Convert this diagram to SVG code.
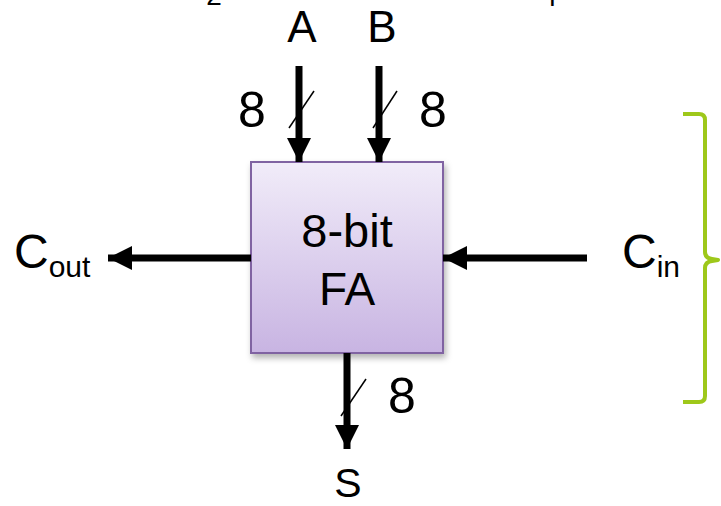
<svg xmlns="http://www.w3.org/2000/svg" width="721" height="506" viewBox="0 0 721 506">
<defs>
<linearGradient id="boxg" x1="0" y1="0" x2="0" y2="1">
<stop offset="0" stop-color="#f1ecf9"/>
<stop offset="1" stop-color="#c8b4e2"/>
</linearGradient>
<filter id="sh" x="-10%" y="-10%" width="130%" height="130%">
<feDropShadow dx="2" dy="4" stdDeviation="3" flood-color="#000" flood-opacity="0.3"/>
</filter>
<marker id="ah" viewBox="0 0 24 24" refX="24" refY="12" markerUnits="userSpaceOnUse" markerWidth="24" markerHeight="24" orient="auto">
<path d="M0,0 L24,12 L0,24 Z" fill="#000"/>
</marker>
</defs>
<style>
.t{font-family:"Liberation Sans",Arial,sans-serif;fill:#000}
.g{font-family:"Liberation Sans","DejaVu Sans",sans-serif;fill:#000}
.w{stroke:#000;stroke-width:7;fill:none}
.s{stroke:#000;stroke-width:1.5;fill:none}
</style>
<rect width="721" height="506" fill="#fff"/>
<text class="t" x="214" y="5" font-size="28" text-anchor="middle">2</text>
<text class="t" x="557" y="0" font-size="28" text-anchor="middle">p</text>
<g id="fa">
<rect x="251" y="162" width="192" height="191" fill="url(#boxg)" stroke="#8064a2" stroke-width="2" filter="url(#sh)"/>
<text class="g" x="347" y="247" font-size="47" text-anchor="middle">8-bit</text>
<text class="g" x="347" y="305" font-size="46" text-anchor="middle">FA</text>
</g>
<g id="a-label"><text class="t" x="302" y="42" font-size="44" text-anchor="middle">A</text></g>
<g id="b-label"><text class="t" x="382" y="42" font-size="44" text-anchor="middle">B</text></g>
<g id="cout-label"><text class="t" x="14" y="268" font-size="48">C<tspan font-size="30" dy="9">out</tspan></text></g>
<g id="cin-label"><text class="t" x="622" y="268" font-size="48">C<tspan font-size="30" dy="9">in</tspan></text></g>
<g id="s-label"><text class="t" x="348" y="497" font-size="41" text-anchor="middle">S</text></g>
<g id="connectors">
<line class="w" x1="299" y1="66" x2="299" y2="162" marker-end="url(#ah)"/>
<line class="w" x1="379" y1="66" x2="379" y2="162" marker-end="url(#ah)"/>
<line class="w" x1="251" y1="258" x2="108" y2="258" marker-end="url(#ah)"/>
<line class="w" x1="587" y1="258" x2="443" y2="258" marker-end="url(#ah)"/>
<line class="w" x1="347" y1="353" x2="347" y2="449" marker-end="url(#ah)"/>
<line class="s" x1="289" y1="128" x2="314" y2="91"/>
<line class="s" x1="373" y1="128" x2="397" y2="91"/>
<line class="s" x1="341" y1="416" x2="366" y2="379"/>
<text class="t" x="252" y="127" font-size="50" text-anchor="middle">8</text>
<text class="t" x="433" y="127" font-size="50" text-anchor="middle">8</text>
<text class="t" x="402" y="413" font-size="50" text-anchor="middle">8</text>
</g>
<g id="brace">
<path d="M683,114 L699,114 Q705,114 705,120 L705,252 Q705,258 712,259 L718,260 L712,261 Q705,262 705,268 L705,396 Q705,402 699,402 L683,402" fill="none" stroke="#9ec81a" stroke-width="4" stroke-linejoin="round"/>
</g>
</svg>
